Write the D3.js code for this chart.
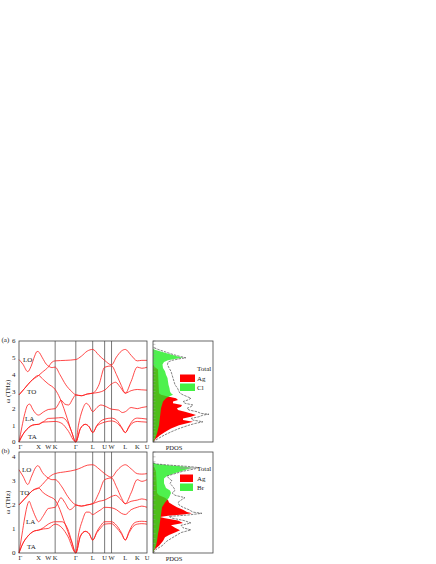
<!DOCTYPE html>
<html><head><meta charset="utf-8">
<script src="https://cdn.jsdelivr.net/npm/d3@7"></script>
<style>body{margin:0;background:#fff}svg text{font-family:"Liberation Serif","Times New Roman",serif;fill:#222}</style>
</head><body><svg id="c" width="436" height="564"></svg>
<script>
// ---------- data ----------
const kLabels = ["Γ","X","W","K","Γ","L","U","W","L","K","U"];
const kPos = [0, 1, 1.5, 1.854, 2.914, 3.780, 4.392, 4.746, 5.453, 6.065, 6.565];
const kLines = [1.854, 2.914, 3.780, 4.392, 4.746];

const yTicksA = [0,1,2,3,4,5,6];
const yTicksB = [0,1,2,3,4];

// panel (a) AgCl phonon branches [k, THz]
const bandA1 = [[0,4.9],[0.2,4.62],[0.45,4.18],[0.62,4.5],[0.8,5.1],[0.93,5.38],[1,5.36],[1.2,5.0],[1.4,4.62],[1.5,4.52],[1.7,4.42],[1.854,4.45],[2.1,4.0],[2.4,3.4],[2.7,3.0],[2.914,2.8],[3.2,2.75],[3.5,2.85],[3.78,2.9],[4.1,3.4],[4.392,4.44],[4.746,4.52],[5.0,4.0],[5.25,3.35],[5.453,2.9],[5.75,3.6],[6.065,4.45],[6.3,4.38],[6.565,4.44]];
const bandA2 = [[0,2.8],[0.3,3.2],[0.6,3.6],[1,3.95],[1.2,4.15],[1.5,4.45],[1.7,4.75],[1.854,4.82],[2.4,4.85],[2.914,4.9],[3.2,5.1],[3.5,5.4],[3.78,5.5],[4.1,5.15],[4.392,4.85],[4.746,4.58],[5.0,5.05],[5.25,5.4],[5.453,5.5],[5.75,5.15],[6.065,4.82],[6.3,4.85],[6.565,4.85]];
const bandA3 = [[0,2.8],[0.3,3.2],[0.6,3.6],[1,3.95],[1.25,3.7],[1.5,3.45],[1.854,3.12],[2.1,2.6],[2.3,2.0],[2.5,1.3],[2.7,0.6],[2.914,0],[3.05,1.0],[3.25,1.9],[3.45,2.3],[3.6,2.15],[3.78,1.8],[4.0,2.05],[4.2,2.2],[4.392,2.14],[4.746,1.95],[5.1,1.9],[5.3,1.75],[5.453,1.8],[5.75,2.05],[6.065,1.98],[6.3,2.05],[6.565,2.1]];
const bandA4 = [[0,0],[0.15,0.9],[0.3,1.7],[0.45,2.2],[0.55,2.25],[0.7,1.95],[0.85,1.7],[1,1.6],[1.25,1.78],[1.5,1.93],[1.854,1.98],[2.0,2.2],[2.15,2.48],[2.35,2.25],[2.55,2.2],[2.75,2.55],[2.914,2.8],[3.2,2.75],[3.5,2.85],[3.78,2.9],[4.1,2.95],[4.392,3.08],[4.746,3.45],[4.95,3.55],[5.2,3.25],[5.453,2.9],[5.75,3.05],[6.065,3.12],[6.3,3.1],[6.565,3.08]];
const bandA5 = [[0,0],[0.2,0.45],[0.4,0.75],[0.6,0.95],[0.8,1.03],[1,1.05],[1.25,1.2],[1.5,1.4],[1.854,1.42],[2.2,1.45],[2.5,1.15],[2.7,0.6],[2.914,0],[3.15,0.8],[3.4,1.05],[3.6,0.9],[3.78,0.56],[4.0,1.0],[4.2,1.25],[4.392,1.36],[4.746,1.42],[5.0,1.3],[5.25,0.9],[5.453,0.56],[5.65,0.95],[5.85,1.3],[6.065,1.42],[6.3,1.4],[6.565,1.36]];
const bandA6 = [[0,0],[0.2,0.45],[0.4,0.75],[0.6,0.95],[0.8,1.03],[1,1.05],[1.2,1.18],[1.5,1.2],[1.854,1.22],[2.2,1.1],[2.5,0.7],[2.914,0],[3.15,0.8],[3.4,1.05],[3.6,0.9],[3.78,0.56],[4.0,0.95],[4.2,1.1],[4.392,1.18],[4.746,1.25],[5.0,1.15],[5.25,0.85],[5.453,0.56],[5.65,0.9],[5.85,1.15],[6.065,1.22],[6.3,1.2],[6.565,1.18]];

// panel (b) AgBr phonon branches [k, THz]
const bandB1 = [[0,3.46],[0.2,3.2],[0.45,2.85],[0.65,3.2],[0.85,3.55],[0.95,3.63],[1,3.62],[1.2,3.35],[1.5,3.12],[1.7,3.05],[1.854,3.05],[2.2,2.75],[2.5,2.35],[2.914,2.0],[3.2,1.95],[3.5,2.0],[3.78,2.05],[4.1,2.5],[4.392,3.05],[4.746,3.12],[5.0,2.75],[5.25,2.3],[5.453,2.05],[5.75,2.5],[6.065,3.05],[6.3,2.98],[6.565,3.05]];
const bandB2 = [[0,2.0],[0.4,2.35],[0.7,2.6],[1,2.7],[1.2,2.85],[1.5,3.12],[1.7,3.25],[1.854,3.3],[2.4,3.38],[2.914,3.46],[3.2,3.55],[3.5,3.65],[3.78,3.67],[4.1,3.5],[4.392,3.3],[4.746,3.15],[5.0,3.4],[5.25,3.6],[5.453,3.67],[5.75,3.5],[6.065,3.3],[6.3,3.28],[6.565,3.3]];
const bandB3 = [[0,2.0],[0.4,2.35],[0.7,2.6],[1,2.7],[1.25,2.5],[1.5,2.37],[1.854,2.2],[2.1,1.8],[2.3,1.35],[2.5,0.9],[2.7,0.45],[2.914,0],[3.05,0.75],[3.25,1.35],[3.45,1.7],[3.6,1.7],[3.78,1.6],[4.0,1.7],[4.2,1.8],[4.392,1.9],[4.746,1.88],[5.0,1.8],[5.25,1.65],[5.453,1.6],[5.75,1.8],[6.065,1.9],[6.3,1.95],[6.565,1.9]];
const bandB4 = [[0,0],[0.15,0.75],[0.3,1.5],[0.45,2.05],[0.52,2.15],[0.65,1.9],[0.85,1.5],[1,1.3],[1.25,1.55],[1.5,1.85],[1.854,1.9],[2.0,2.1],[2.15,2.3],[2.35,2.1],[2.6,1.8],[2.8,1.9],[2.914,2.0],[3.2,1.95],[3.5,2.0],[3.78,2.05],[4.1,2.15],[4.392,2.2],[4.746,2.35],[4.95,2.4],[5.2,2.25],[5.453,2.05],[5.75,2.15],[6.065,2.2],[6.3,2.25],[6.565,2.2]];
const bandB5 = [[0,0],[0.2,0.4],[0.4,0.65],[0.6,0.82],[0.8,0.92],[1,0.95],[1.25,1.05],[1.5,1.2],[1.854,1.3],[2.2,1.3],[2.5,1.0],[2.7,0.5],[2.914,0],[3.15,0.7],[3.4,0.9],[3.6,0.8],[3.78,0.54],[4.0,0.9],[4.2,1.15],[4.392,1.3],[4.746,1.3],[5.0,1.15],[5.25,0.85],[5.453,0.54],[5.65,0.9],[5.85,1.2],[6.065,1.3],[6.3,1.32],[6.565,1.3]];
const bandB6 = [[0,0],[0.2,0.4],[0.4,0.65],[0.6,0.82],[0.8,0.92],[1,0.95],[1.25,1.0],[1.5,1.02],[1.854,1.2],[2.2,1.05],[2.5,0.7],[2.914,0],[3.15,0.7],[3.4,0.9],[3.6,0.8],[3.78,0.54],[4.0,0.85],[4.2,1.05],[4.392,1.2],[4.746,1.22],[5.0,1.05],[5.25,0.8],[5.453,0.54],[5.65,0.85],[5.85,1.1],[6.065,1.2],[6.3,1.22],[6.565,1.2]];

// PDOS panel (a) [THz, states]
const dosAgA = [[0,0],[0.2,0.3],[0.4,0.7],[0.6,1.2],[0.8,1.8],[1.0,2.6],[1.1,3.3],[1.2,4.0],[1.3,3.0],[1.4,3.0],[1.5,3.8],[1.6,4.3],[1.7,3.8],[1.8,3.2],[1.9,2.5],[2.0,2.4],[2.1,2.8],[2.2,2.9],[2.3,2.0],[2.4,2.0],[2.5,2.5],[2.6,2.3],[2.7,1.5],[2.8,0.8],[2.9,0.6],[3.5,0.55],[4.3,0.5],[4.4,0.3],[4.5,0.1],[4.6,0]];
const dosClA = [[0,0],[0.2,0.2],[0.5,0.4],[1.0,0.6],[1.5,0.7],[2.0,0.8],[2.4,1.0],[2.6,1.3],[2.7,1.6],[2.8,2.0],[2.9,1.8],[3.0,1.7],[3.2,1.65],[3.4,1.55],[3.6,1.5],[3.8,1.45],[4.0,1.3],[4.2,1.2],[4.4,1.0],[4.6,0.95],[4.75,1.1],[4.85,1.5],[4.95,2.3],[5.0,3.0],[5.1,2.4],[5.2,1.8],[5.3,1.2],[5.4,0.6],[5.5,0.1],[5.55,0]];
const dosTotA = [[0,0],[0.2,0.5],[0.4,1.1],[0.6,1.8],[0.8,2.6],[1.0,3.6],[1.1,4.2],[1.2,5.0],[1.3,4.0],[1.4,3.8],[1.5,4.6],[1.6,5.0],[1.65,5.6],[1.7,4.8],[1.8,4.4],[1.9,3.6],[2.0,3.4],[2.1,3.8],[2.2,4.0],[2.3,3.2],[2.4,3.0],[2.5,3.5],[2.6,3.8],[2.7,3.4],[2.8,3.0],[2.9,2.7],[3.0,2.6],[3.2,2.45],[3.4,2.2],[3.6,2.1],[3.8,2.0],[4.0,1.9],[4.2,1.8],[4.4,1.6],[4.6,1.45],[4.75,1.5],[4.85,1.9],[4.95,2.7],[5.0,3.3],[5.1,2.6],[5.2,2.0],[5.3,1.5],[5.4,1.0],[5.5,0.5],[5.6,0.1],[5.65,0]];

// PDOS panel (b)
const dosAgB = [[0,0],[0.1,0.1],[0.2,0.3],[0.3,0.6],[0.5,1.0],[0.65,1.2],[0.75,1.6],[0.85,2.2],[0.95,2.7],[1.05,2.2],[1.15,1.8],[1.25,3.0],[1.35,2.5],[1.45,1.2],[1.5,0.7],[1.55,1.5],[1.6,3.0],[1.65,3.9],[1.7,3.4],[1.8,3.0],[1.9,2.4],[2.0,2.0],[2.1,1.6],[2.2,1.5],[2.3,1.2],[2.4,0.6],[2.5,0.4],[3.0,0.35],[3.4,0.3],[3.6,0.1],[3.7,0]];
const dosBrB = [[0,0],[0.1,0.1],[0.3,0.3],[0.5,0.4],[0.8,0.5],[1.0,0.6],[1.3,0.7],[1.6,0.8],[1.9,0.9],[2.1,1.2],[2.3,1.6],[2.5,1.8],[2.6,1.7],[2.7,1.3],[2.9,1.1],[3.1,1.1],[3.2,1.4],[3.3,2.0],[3.4,2.8],[3.5,3.6],[3.55,3.9],[3.6,3.0],[3.65,1.5],[3.7,0.3],[3.75,0]];
const dosTotB = [[0,0],[0.15,0.3],[0.3,0.9],[0.5,1.4],[0.7,2.2],[0.85,2.8],[0.96,3.8],[1.05,3.0],[1.15,2.8],[1.25,3.8],[1.35,3.1],[1.45,1.9],[1.52,1.6],[1.58,3.5],[1.65,4.9],[1.7,4.0],[1.8,3.6],[1.9,3.0],[2.0,2.6],[2.1,2.5],[2.2,2.8],[2.3,3.2],[2.4,2.2],[2.5,1.9],[2.6,2.2],[2.7,2.1],[2.8,1.9],[2.9,1.7],[3.0,1.9],[3.1,1.6],[3.2,1.4],[3.3,2.2],[3.4,3.0],[3.5,4.2],[3.55,4.6],[3.6,3.5],[3.65,1.8],[3.7,0.4],[3.75,0]];

const bandLabelsA = [["LO",4.9],["TO",3.0],["LA",1.4],["TA",0.3]];
const bandLabelsB = [["LO",3.46],["TO",2.5],["LA",1.3],["TA",0.25]];

// ---------- drawing ----------
const svg = d3.select("#c");
const RED = "#ff1a1a", GREEN = "#22ee22", FRAME = "#444";

function panel(o) {
  const g = svg.append("g");
  const x = d3.scaleLinear().domain([0, 6.565]).range([19, 147]);
  const y = d3.scaleLinear().domain([0, o.ymax]).range([o.bottom, o.top]);
  const xd = d3.scaleLinear().domain([0, 6]).range([153, 213]);

  g.selectAll("line.k").data(kLines).join("line")
    .attr("x1", d => x(d)).attr("x2", d => x(d))
    .attr("y1", o.top).attr("y2", o.bottom)
    .attr("stroke", "#555").attr("stroke-width", 0.8);

  const line = d3.line().x(d => x(d[0])).y(d => y(d[1])).curve(d3.curveMonotoneX);
  g.selectAll("path.band").data(o.bands).join("path")
    .attr("d", line).attr("fill", "none")
    .attr("stroke", RED).attr("stroke-width", 0.8);

  g.append("rect").attr("x", 19).attr("y", o.top).attr("width", 128).attr("height", o.bottom - o.top)
    .attr("fill", "none").attr("stroke", FRAME).attr("stroke-width", 0.8);

  g.selectAll("text.yt").data(o.yticks).join("text")
    .attr("x", 15.5).attr("y", d => y(d) + 2.4).attr("text-anchor", "end")
    .attr("font-size", 7).text(d => d);
  g.selectAll("text.kt").data(kPos).join("text")
    .attr("x", (d, i) => x(d) + (i === 0 ? 1.5 : 0)).attr("y", o.bottom + 7)
    .attr("text-anchor", "middle").attr("font-size", 6.5)
    .text((d, i) => kLabels[i]);

  g.append("text").attr("transform", `translate(9.5,${(o.top + o.bottom) / 2}) rotate(-90)`)
    .attr("text-anchor", "middle").attr("font-size", 7).text("ω (THz)");
  g.append("text").attr("x", 1.5).attr("y", o.top + 0.5).attr("font-size", 7).text(o.tag);

  g.selectAll("text.bl").data(o.blabels).join("text")
    .attr("x", (d, i) => o.blx[i]).attr("y", d => y(d[1]) + 2.4)
    .attr("font-size", 7).text(d => d[0]);

  const area = d3.area().y(d => y(d[0])).x0(xd(0)).x1(d => xd(d[1])).curve(d3.curveLinear);
  g.append("path").attr("d", area(o.ag)).attr("fill", "#ff0000");
  g.append("path").attr("d", area(o.x)).attr("fill", GREEN).attr("fill-opacity", 0.8);
  const tl = d3.line().y(d => y(d[0])).x(d => xd(d[1]));
  g.append("path").attr("d", tl(o.tot)).attr("fill", "none")
    .attr("stroke", "#333").attr("stroke-width", 0.6).attr("stroke-dasharray", "2.5,1");

  const mt = d3.range(0, o.ymax + 0.001, 0.2);
  g.selectAll("line.mt").data(mt).join("line")
    .attr("x1", 153).attr("x2", 155.5).attr("y1", d => y(d)).attr("y2", d => y(d))
    .attr("stroke", "#999").attr("stroke-width", 0.5);

  g.append("rect").attr("x", 153).attr("y", o.top).attr("width", 60).attr("height", o.bottom - o.top)
    .attr("fill", "none").attr("stroke", FRAME).attr("stroke-width", 0.8);

  g.append("text").attr("x", 174).attr("y", o.bottom + 7.5).attr("text-anchor", "middle")
    .attr("font-size", 6.5).text("PDOS");

  const L = o.leg;
  if (o.totLine) {
    g.append("line").attr("x1", 180).attr("x2", 195).attr("y1", L - 3).attr("y2", L - 3)
      .attr("stroke", "#999").attr("stroke-width", 1);
  }
  g.append("text").attr("x", 197).attr("y", L).attr("font-size", 7).text("Total");
  g.append("rect").attr("x", 180).attr("y", L + 3.5).attr("width", o.bw).attr("height", 7.5).attr("fill", "#ff0000");
  g.append("text").attr("x", 197).attr("y", L + 10).attr("font-size", 7).text("Ag");
  g.append("rect").attr("x", 180).attr("y", L + 12.5).attr("width", o.bw).attr("height", 7.5).attr("fill", GREEN).attr("fill-opacity", 0.85);
  g.append("text").attr("x", 197).attr("y", L + 19).attr("font-size", 7).text(o.xname);
}

panel({ top: 341, bottom: 442, ymax: 6, yticks: yTicksA, tag: "(a)",
  bands: [bandA1, bandA2, bandA3, bandA4, bandA5, bandA6],
  blabels: bandLabelsA, blx: [23, 27, 25, 28],
  ag: dosAgA, x: dosClA, tot: dosTotA, leg: 371, bw: 15, totLine: false, xname: "Cl" });

panel({ top: 452, bottom: 553, ymax: 4.2, yticks: yTicksB, tag: "(b)",
  bands: [bandB1, bandB2, bandB3, bandB4, bandB5, bandB6],
  blabels: bandLabelsB, blx: [22, 20, 26, 27],
  ag: dosAgB, x: dosBrB, tot: dosTotB, leg: 471, bw: 13, totLine: true, xname: "Br" });
</script></body></html>
